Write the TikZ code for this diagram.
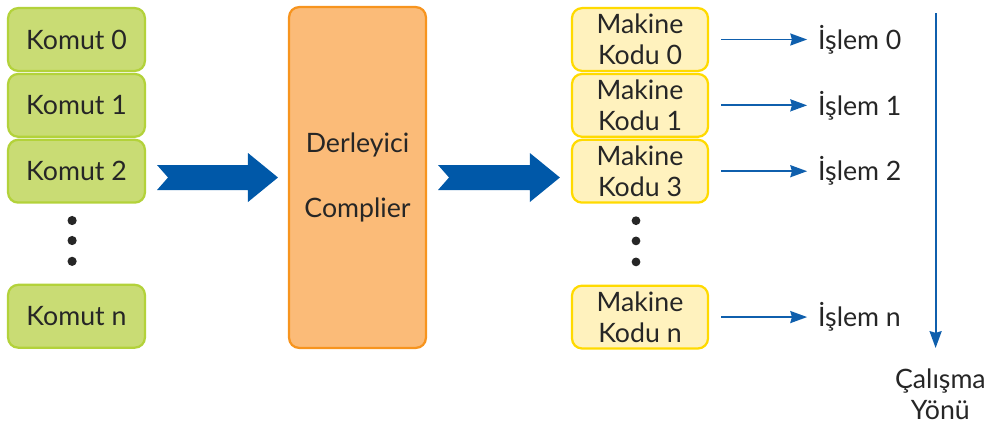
\documentclass[tikz,border=0pt]{standalone}
\usepackage{fontspec}
\setmainfont{Lato}
\usetikzlibrary{positioning, arrows.meta, calc}
\definecolor{komutfill}{HTML}{C9DC74}
\definecolor{komutedge}{HTML}{B3D23A}
\definecolor{derfill}{HTML}{FBBB78}
\definecolor{deredge}{HTML}{F7941E}
\definecolor{makfill}{HTML}{FFF2BE}
\definecolor{makedge}{HTML}{FFDA00}
\definecolor{fatblue}{HTML}{0058A8}
\definecolor{flowblue}{HTML}{0F5FAD}
\tikzset{
  komut/.style={rectangle, rounded corners=0.25cm, minimum width=3.42cm, minimum height=1.57cm, text centered, draw=komutedge, fill=komutfill, line width=1.6pt},
  derleyici/.style={rectangle, rounded corners=0.25cm, minimum width=3.42cm, minimum height=8.52cm, align=center, draw=deredge, fill=derfill, line width=1.6pt},
  makine/.style={rectangle, rounded corners=0.25cm, minimum width=3.4cm, minimum height=1.57cm, align=center, draw=makedge, fill=makfill, line width=1.6pt},
  flow/.style={draw=flowblue, line width=1.4pt, -{Stealth[length=0.42cm, width=0.3cm, inset=0.04cm]}},
  dot/.style={fill=black!85}
}
\newcommand{\fatarrow}[2]{%
  \fill[fatblue] let \p1=#1, \p2=#2 in
    (\x1,\y2+0.3125cm) -- (\x2-0.75cm,\y2+0.3125cm) -- (\x2-0.75cm,\y2+0.6125cm) -- (\x2,\y2)
    -- (\x2-0.75cm,\y2-0.6125cm) -- (\x2-0.75cm,\y2-0.3125cm) -- (\x1,\y2-0.3125cm) -- (\x1+0.275cm,\y2) -- cycle;}

\begin{document}
\begin{tikzpicture}[every node/.style={font=\fontsize{19}{21.8}\selectfont, text=black!85}]
    \useasboundingbox (0,0) rectangle (24.775,-10.7);

    % Komutlar
    \node (k0) [komut] at (1.9125,-0.9875) {Komut 0};
    \node (k1) [komut, below=0.02cm of k0] {Komut 1};
    \node (k2) [komut, below=0.02cm of k1] {Komut 2};
    \node (kn) [komut, below=2cm of k2] {Komut n};
    \foreach \d in {0.21,0.46,0.72}
        \fill[dot] ($(k2.south)!\d!(kn.north)+(-0.11,0)$) circle (0.115cm);

    % Derleyici
    \node (comp) [derleyici] at (8.9375,-4.4375) {Derleyici\\[0.85cm]Complier};

    % Makine kodlari
    \node (m0) [makine] at (16,-0.9875) {Makine\\Kodu 0};
    \node (m1) [makine, below=0.02cm of m0] {Makine\\Kodu 1};
    \node (m2) [makine, below=0.02cm of m1] {Makine\\Kodu 3};
    \node (mn) [makine, below=2.02cm of m2] {Makine\\Kodu n};
    \foreach \d in {0.21,0.46,0.72}
        \fill[dot] ($(m2.south)!\d!(mn.north)+(-0.1,0)$) circle (0.11cm);

    % Islemler
    \node (o0) [right=2.6cm of m0] {İşlem 0};
    \node (o1) [right=2.6cm of m1] {İşlem 1};
    \node (o2) [right=2.6cm of m2] {İşlem 2};
    \node (on) [right=2.6cm of mn] {İşlem n};

    % Oklar
    \fatarrow{($(k2.east |- comp.west)+(0.275,0)$)}{($(comp.west)+(-0.25,0)$)}
    \fatarrow{($(comp.east)+(0.275,0)$)}{($(m2.west |- comp.east)+(-0.275,0)$)}
    \draw [flow, shorten <=0.3cm, shorten >=0.15cm] (m0) -- (o0);
    \draw [flow, shorten <=0.3cm, shorten >=0.15cm] (m1) -- (o1);
    \draw [flow, shorten <=0.3cm, shorten >=0.15cm] (m2) -- (o2);
    \draw [flow, shorten <=0.3cm, shorten >=0.15cm] (mn) -- (on);

    % Calisma yonu
    \coordinate (dirtop) at (23.39,-0.325);
    \node (dir) [align=center] at (23.51,-9.85) {Çalışma\\Yönü};
    \draw [flow] (dirtop) -- (dirtop |- 0,-8.7);

\end{tikzpicture}
\end{document}
